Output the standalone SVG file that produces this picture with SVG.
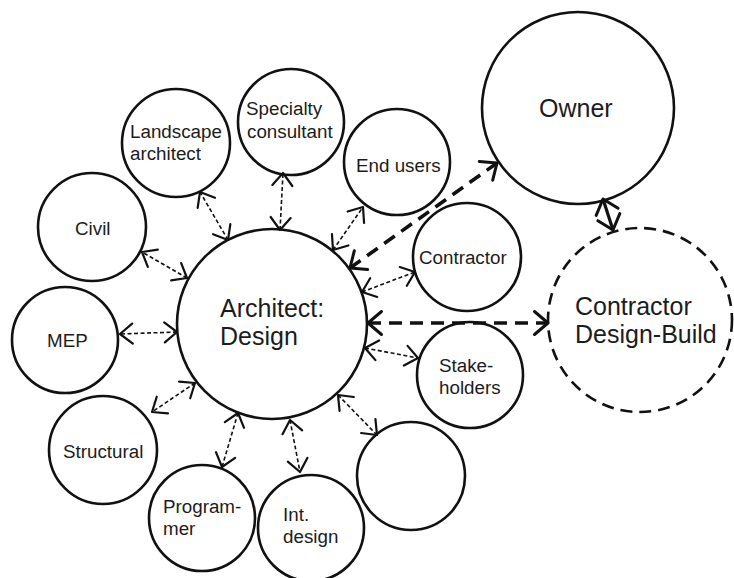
<svg xmlns="http://www.w3.org/2000/svg" width="734" height="578" viewBox="0 0 734 578">
  <style>
    .node { fill: none; stroke: #111; stroke-width: 2.6; }
    .dashed { stroke-dasharray: 12 7; }
    .lbl { font-family: "Liberation Sans", Arial, sans-serif; font-size: 18.8px; fill: #1c1c1c; }
    .big { font-size: 25px; }
    .link { stroke: #111; stroke-width: 1.6; stroke-dasharray: 4 2.5; fill: none;
            marker-start: url(#head); marker-end: url(#head); }
    .link-major { stroke: #111; stroke-width: 3.6; stroke-dasharray: 13 8; fill: none;
                  marker-start: url(#headBig); marker-end: url(#headBig); }
    .link-solid { stroke: #111; stroke-width: 3.2; fill: none;
                  marker-start: url(#headBig); marker-end: url(#headBig); }
  </style>
  <defs>
    <!-- open V arrowhead for the light dashed links -->
    <marker id="head" markerUnits="userSpaceOnUse" orient="auto-start-reverse"
            refX="0" refY="0" markerWidth="1" markerHeight="1" overflow="visible">
      <path d="M-12.5,-10 L0,0 L-12.5,10" fill="none" stroke="#111" stroke-width="2.2" stroke-linecap="round" stroke-linejoin="round"/>
    </marker>
    <!-- heavier V arrowhead for the main relationships -->
    <marker id="headBig" markerUnits="userSpaceOnUse" orient="auto-start-reverse"
            refX="0" refY="0" markerWidth="1" markerHeight="1" overflow="visible">
      <path d="M-13.5,-11.5 L0,0 L-13.5,11.5" fill="none" stroke="#111" stroke-width="3" stroke-linecap="round" stroke-linejoin="round"/>
    </marker>
  </defs>

  <rect width="734" height="578" fill="#fff"/>

  <g id="connectors">
    <line class="link" x1="228" y1="240" x2="200" y2="192"/>
    <line class="link" x1="280" y1="230" x2="283" y2="173"/>
    <line class="link" x1="187" y1="278" x2="142" y2="252"/>
    <line class="link" x1="333" y1="250" x2="363" y2="207"/>
    <line class="link" x1="362" y1="292" x2="415" y2="272"/>
    <line class="link" x1="365" y1="348" x2="418" y2="358"/>
    <line class="link" x1="338" y1="395" x2="377" y2="435"/>
    <line class="link" x1="290" y1="420" x2="300" y2="472"/>
    <line class="link" x1="238" y1="413" x2="222" y2="467"/>
    <line class="link" x1="195" y1="383" x2="152" y2="412"/>
    <line class="link" x1="177" y1="332" x2="120" y2="334"/>
    <line class="link-major" x1="350" y1="268" x2="497" y2="163"/>
    <line class="link-major" x1="368" y1="323" x2="548" y2="323"/>
    <line class="link-solid" x1="603" y1="199" x2="613" y2="230"/>
  </g>

  <g id="architect">
    <circle class="node" cx="272" cy="324" r="95"/>
    <text class="lbl big" x="220" y="317">Architect:</text>
    <text class="lbl big" x="220" y="345">Design</text>
  </g>
  <g id="owner">
    <circle class="node" cx="578" cy="108" r="96"/>
    <text class="lbl big" x="539" y="117">Owner</text>
  </g>
  <g id="design-build">
    <circle class="node dashed" cx="640" cy="320" r="92"/>
    <text class="lbl big" x="575" y="315">Contractor</text>
    <text class="lbl big" x="575" y="343">Design-Build</text>
  </g>
  <g id="landscape">
    <circle class="node" cx="176" cy="143" r="54"/>
    <text class="lbl" x="130" y="138">Landscape</text>
    <text class="lbl" x="130" y="160">architect</text>
  </g>
  <g id="specialty">
    <circle class="node" cx="291" cy="122" r="53"/>
    <text class="lbl" x="246" y="115">Specialty</text>
    <text class="lbl" x="247" y="138">consultant</text>
  </g>
  <g id="civil">
    <circle class="node" cx="92" cy="227" r="54"/>
    <text class="lbl" x="75" y="235">Civil</text>
  </g>
  <g id="end-users">
    <circle class="node" cx="397" cy="162" r="53"/>
    <text class="lbl" x="356" y="172">End users</text>
  </g>
  <g id="contractor">
    <circle class="node" cx="467" cy="257" r="54"/>
    <text class="lbl" x="419" y="264">Contractor</text>
  </g>
  <g id="stakeholders">
    <circle class="node" cx="470" cy="375" r="53"/>
    <text class="lbl" x="439" y="372">Stake-</text>
    <text class="lbl" x="439" y="394">holders</text>
  </g>
  <g id="unnamed">
    <circle class="node" cx="411" cy="476" r="54"/>
  </g>
  <g id="int-design">
    <circle class="node" cx="311" cy="528" r="53"/>
    <text class="lbl" x="283" y="521">Int.</text>
    <text class="lbl" x="283" y="543">design</text>
  </g>
  <g id="programmer">
    <circle class="node" cx="202" cy="518" r="53"/>
    <text class="lbl" x="163" y="513">Program-</text>
    <text class="lbl" x="163" y="535">mer</text>
  </g>
  <g id="structural">
    <circle class="node" cx="103" cy="450" r="54"/>
    <text class="lbl" x="63" y="458">Structural</text>
  </g>
  <g id="mep">
    <circle class="node" cx="65" cy="340" r="53"/>
    <text class="lbl" x="47" y="347">MEP</text>
  </g>
</svg>
